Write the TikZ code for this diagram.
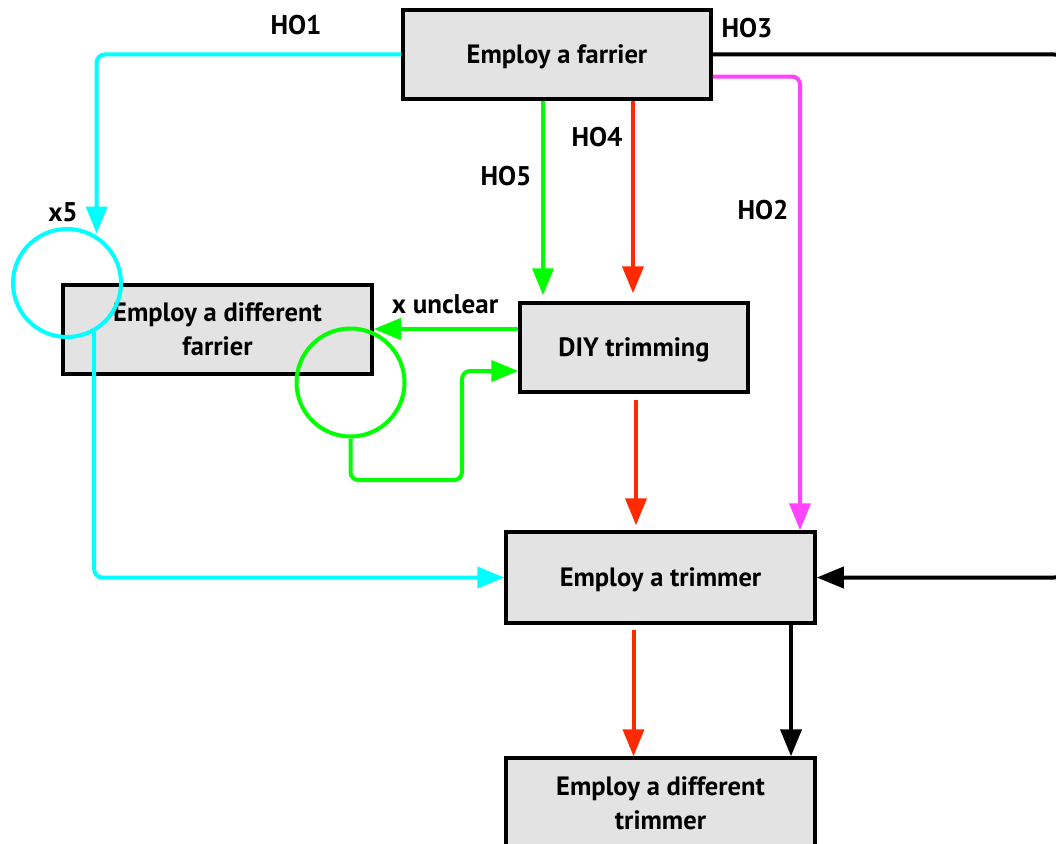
\documentclass[tikz,border=0pt]{standalone}
\usepackage{fontspec}
\setmainfont{PT Sans}
\usetikzlibrary{arrows.meta,calc}
\definecolor{boxgray}{HTML}{E3E3E3}
\definecolor{hocyan}{HTML}{00FFFF}
\definecolor{hogreen}{HTML}{00FF00}
\definecolor{hored}{HTML}{FF2A00}
\definecolor{homagenta}{HTML}{FF44FF}
\begin{document}
\begin{tikzpicture}[x=1pt,y=-1pt,
  box/.style={draw=black, fill=boxgray, line width=3.5pt, minimum width=#1,
    minimum height=89pt, inner sep=0pt, align=center,
    font=\fontsize{26.5}{34}\selectfont\bfseries},
  oneline/.style={text depth=0pt},
  lbl/.style={font=\fontsize{27}{30}\selectfont\bfseries, inner sep=0pt},
  flow/.style={line width=4pt, rounded corners=8pt,
    -{Triangle[length=27pt,width=21pt]}},
  loopmark/.style={draw, circle, line width=4pt, minimum size=108pt, inner sep=0pt}]

\clip (0,0) rectangle (1056,843);
\fill[white] (0,0) rectangle (1056,843);

% boxes
\node[box=308, oneline] (farrier) at (557,54.5) {Employ a farrier};
\node[box=309] (difffarrier) at (217.5,329.5) {Employ a different\\farrier};
\node[box=228, oneline] (diy) at (634,347.5) {DIY trimming};
\node[box=309, oneline, minimum height=91pt] (trimmer) at (660.5,577.5) {Employ a trimmer};
\node[box=309, minimum height=91pt] (difftrimmer) at (660.5,803.5) {Employ a different\\trimmer};

% repeat markers
\node[loopmark, draw=hocyan] (cyanloop) at (67,283) {};
\node[loopmark, draw=hogreen] (greenloop) at (350.5,382.5) {};

% helper points for the routed lines
\coordinate (rightedge) at (1068,300);
\coordinate (magx) at (800,300);
\coordinate (gturn) at (462,480);

% HO1
\draw[flow, hocyan, shorten >=2pt] (farrier.west) -| (cyanloop.58);
\draw[flow, hocyan] (cyanloop.-61) |- (trimmer.west);
% HO3
\draw[flow, black, rounded corners=14pt] (farrier.east) -| (rightedge) |- (trimmer.east);
% HO2
\draw[flow, homagenta] ([yshift=-22pt]farrier.east) -| (magx |- trimmer.north);
% HO5
\draw[flow, hogreen, shorten >=6pt] ([xshift=-14pt]farrier.south) -- ([xshift=-14pt]farrier.south |- diy.north);
% HO4
\draw[flow, hored, shorten >=8pt] ([xshift=76pt]farrier.south) -- ([xshift=76pt]farrier.south |- diy.north);
% x unclear
\draw[flow, hogreen] ([yshift=18.5pt]diy.west) -- (difffarrier.east |- 0,329);
\draw[flow, hogreen] (greenloop.south) |- (gturn) |- ([yshift=-23.5pt]diy.west);
% DIY -> trimmer
\draw[flow, hored, shorten <=6pt, shorten >=5pt] ([xshift=2pt]diy.south) -- ([xshift=2pt]diy.south |- trimmer.north);
% trimmer -> different trimmer
\draw[flow, hored, shorten <=5pt] ([xshift=-27pt]trimmer.south) -- ([xshift=-27pt]trimmer.south |- difftrimmer.north);
\draw[flow, black] ([xshift=130.5pt]trimmer.south) -- ([xshift=130.5pt]trimmer.south |- difftrimmer.north);

% labels
\node[lbl] (ho1) at (296,25) {HO1};
\node[lbl] (ho3) at (747,28) {HO3};
\node[lbl] (ho4) at (597,137) {HO4};
\node[lbl] (ho5) at (506,176) {HO5};
\node[lbl] (ho2) at (763,210) {HO2};
\node[lbl] (x5) at (63,212) {x5};
\node[lbl] (xunclear) at (445,304) {x unclear};
\end{tikzpicture}
\end{document}
